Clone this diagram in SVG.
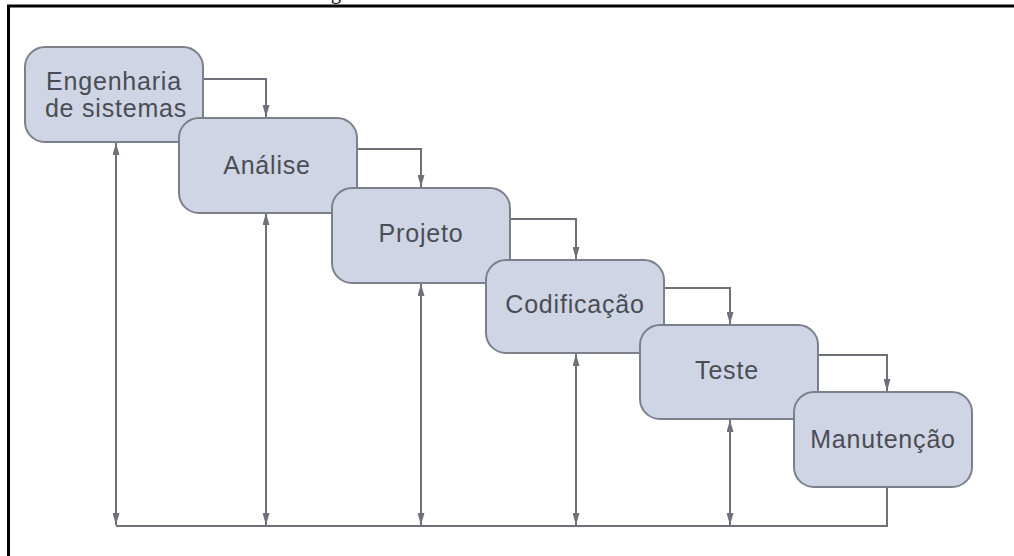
<svg xmlns="http://www.w3.org/2000/svg" width="1014" height="556" viewBox="0 0 1014 556">
  <style>
    .box { fill: #cfd5e4; stroke: #7b808b; stroke-width: 2; }
    .label { font-family: "Liberation Sans", Arial, sans-serif; font-size: 25px; letter-spacing: 0.8px; fill: #4a4d55; text-anchor: middle; }
    .wire { fill: none; stroke: #6e717a; stroke-width: 2; }
    .frame { stroke: #000; stroke-width: 3; }
  </style>
  <defs>
    <marker id="head" viewBox="0 0 12 7" refX="12" refY="3.5" markerWidth="12" markerHeight="7" markerUnits="userSpaceOnUse" orient="auto-start-reverse">
      <path d="M0,0 L12,3.5 L0,7 Z" fill="#6e717a"/>
    </marker>
  </defs>

  <rect width="1014" height="556" fill="#fff"/>

  <!-- page frame -->
  <g id="frame">
    <line class="frame" x1="7" y1="6" x2="1014" y2="6"/>
    <line class="frame" x1="8.5" y1="5" x2="8.5" y2="556"/>
    <text x="331" y="-1" font-family="Liberation Serif, serif" font-size="20" fill="#000">g</text>
  </g>

  <!-- connectors -->
  <g id="connectors">
    <!-- stage to next stage -->
    <path class="wire" d="M203,79 H266 V117" marker-end="url(#head)"/>
    <path class="wire" d="M357,149 H421 V187" marker-end="url(#head)"/>
    <path class="wire" d="M510,219 H576 V259" marker-end="url(#head)"/>
    <path class="wire" d="M664,288 H730 V324" marker-end="url(#head)"/>
    <path class="wire" d="M818,355 H887 V391" marker-end="url(#head)"/>
    <!-- feedback lines -->
    <path class="wire" d="M116,143 V525" marker-start="url(#head)" marker-end="url(#head)"/>
    <path class="wire" d="M266,213 V525" marker-start="url(#head)" marker-end="url(#head)"/>
    <path class="wire" d="M421,284 V525" marker-start="url(#head)" marker-end="url(#head)"/>
    <path class="wire" d="M576,354 V525" marker-start="url(#head)" marker-end="url(#head)"/>
    <path class="wire" d="M730,420 V525" marker-start="url(#head)" marker-end="url(#head)"/>
    <path class="wire" d="M887,487 V526 H116"/>
  </g>

  <!-- stages -->
  <g id="engenharia">
    <rect class="box" x="25" y="47" width="178" height="95" rx="20"/>
    <text class="label" x="114" y="90">Engenharia</text>
    <text class="label" x="116" y="117">de sistemas</text>
  </g>
  <g id="analise">
    <rect class="box" x="179" y="118" width="178" height="95" rx="20"/>
    <text class="label" x="267" y="174">Análise</text>
  </g>
  <g id="projeto">
    <rect class="box" x="332" y="188" width="178" height="95" rx="20"/>
    <text class="label" x="421" y="242">Projeto</text>
  </g>
  <g id="codificacao">
    <rect class="box" x="486" y="260" width="178" height="93" rx="20"/>
    <text class="label" x="575" y="313">Codificação</text>
  </g>
  <g id="teste">
    <rect class="box" x="640" y="325" width="178" height="94" rx="20"/>
    <text class="label" x="727" y="379">Teste</text>
  </g>
  <g id="manutencao">
    <rect class="box" x="794" y="392" width="178" height="95" rx="20"/>
    <text class="label" x="883" y="448">Manutenção</text>
  </g>
</svg>
